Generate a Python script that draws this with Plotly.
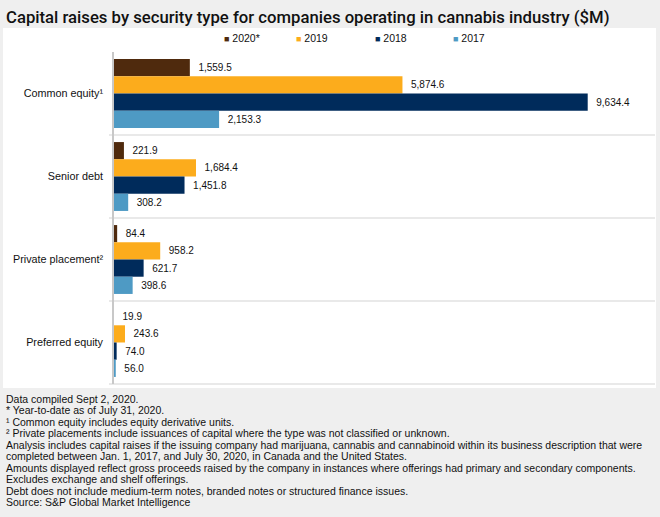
import plotly.graph_objects as go

categories = ["Common equity\u00b9", "Senior debt", "Private placement\u00b2", "Preferred equity"]
series_names = ["2020*", "2019", "2018", "2017"]
values_2020 = [1559.5, 221.9, 84.4, 19.9]
values_2019 = [5874.6, 1684.4, 958.2, 243.6]
values_2018 = [9634.4, 1451.8, 621.7, 74.0]
values_2017 = [2153.3, 308.2, 398.6, 56.0]
series_values = [values_2020, values_2019, values_2018, values_2017]
colors = ["#4f2a0d", "#fcac1c", "#002b5b", "#4e9ac4"]

title = "Capital raises by security type for companies operating in cannabis industry ($M)"
footnotes = [
    "Data compiled Sept 2, 2020.",
    "* Year-to-date as of July 31, 2020.",
    "\u00b9 Common equity includes equity derivative units.",
    "\u00b2 Private placements include issuances of capital where the type was not classified or unknown.",
    "Analysis includes capital raises if the issuing company had marijuana, cannabis and cannabinoid within its business description that were",
    "completed between Jan. 1, 2017, and July 30, 2020, in Canada and the United States.",
    "Amounts displayed reflect gross proceeds raised by the company in instances where offerings had primary and secondary components.",
    "Excludes exchange and shelf offerings.",
    "Debt does not include medium-term notes, branded notes or structured finance issues.",
    "Source: S&P Global Market Intelligence",
]

W, H = 660, 517
L, R, T, B = 113, 5, 52, 133
pw, ph = W - L - R, H - T - B

def px_x(p):
    return (p - L) / pw

def px_y(p):
    return (H - B - p) / ph

FONT = "Liberation Sans, Arial, sans-serif"

fig = go.Figure()
for name, vals, col in zip(series_names, series_values, colors):
    fig.add_trace(go.Bar(
        y=categories, x=vals, name=name, orientation="h",
        marker=dict(color=col, line=dict(width=0)),
        text=[f"\u00a0\u00a0{v:,.1f}" for v in vals], textposition="outside",
        textfont=dict(size=10, color="#111", family=FONT),
        cliponaxis=False, showlegend=False, hoverinfo="skip",
    ))

shapes = [
    dict(type="rect", xref="paper", yref="paper", x0=px_x(3), x1=px_x(656), y0=px_y(388), y1=px_y(28),
         fillcolor="white", line=dict(width=0), layer="below"),
]
for i in range(len(categories) - 1):
    shapes.append(dict(type="line", xref="paper", yref="y", x0=px_x(109), x1=px_x(655),
                       y0=i + 0.5, y1=i + 0.5, line=dict(color="#e2e2e2", width=1.5)))
shapes.append(dict(type="line", xref="paper", yref="paper", x0=px_x(109), x1=px_x(655),
                   y0=0, y1=0, line=dict(color="#e2e2e2", width=1.5)))
shapes.append(dict(type="line", xref="paper", yref="paper", x0=0, x1=0,
                   y0=0, y1=1, line=dict(color="#c8c8c8", width=2)))

annotations = []
legend_x = [222, 294, 373, 451]
for name, col, lx in zip(series_names, colors, legend_x):
    annotations.append(dict(
        xref="paper", yref="paper", x=px_x(lx), y=px_y(38), xanchor="left", yanchor="middle",
        text=f'<span style="color:{col};font-size:9px">\u25a0</span> {name}', showarrow=False,
        font=dict(size=10.5, color="#111", family=FONT),
    ))
for i, line in enumerate(footnotes):
    annotations.append(dict(
        xref="paper", yref="paper", x=px_x(4), y=px_y(398.5 + i * 11.55), xanchor="left", yanchor="middle",
        text=line, showarrow=False, font=dict(size=10.5, color="#111", family=FONT),
    ))

fig.update_layout(
    width=W, height=H,
    margin=dict(l=L, r=R, t=T, b=B, pad=0),
    paper_bgcolor="#efefef", plot_bgcolor="white",
    title=dict(text=title, xref="container", yref="container", x=6 / W, y=1 - 17 / H,
               xanchor="left", yanchor="middle",
               font=dict(size=16.7, color="#111", family="Roboto, Arial, sans-serif", weight=500)),
    barmode="group", bargap=0.17, bargroupgap=0,
    xaxis=dict(range=[0, 11000], visible=False, fixedrange=True),
    yaxis=dict(autorange="reversed", showgrid=False, zeroline=False, showline=False,
               ticks="", ticklabelstandoff=9, fixedrange=True,
               tickfont=dict(size=10.8, color="#111", family=FONT)),
    shapes=shapes, annotations=annotations,
    showlegend=False, hovermode=False,
    font=dict(family=FONT),
)

fig.write_html("out.html", config={"displayModeBar": False},
               post_script="document.body.style.margin='0';document.body.style.overflow='hidden';")
